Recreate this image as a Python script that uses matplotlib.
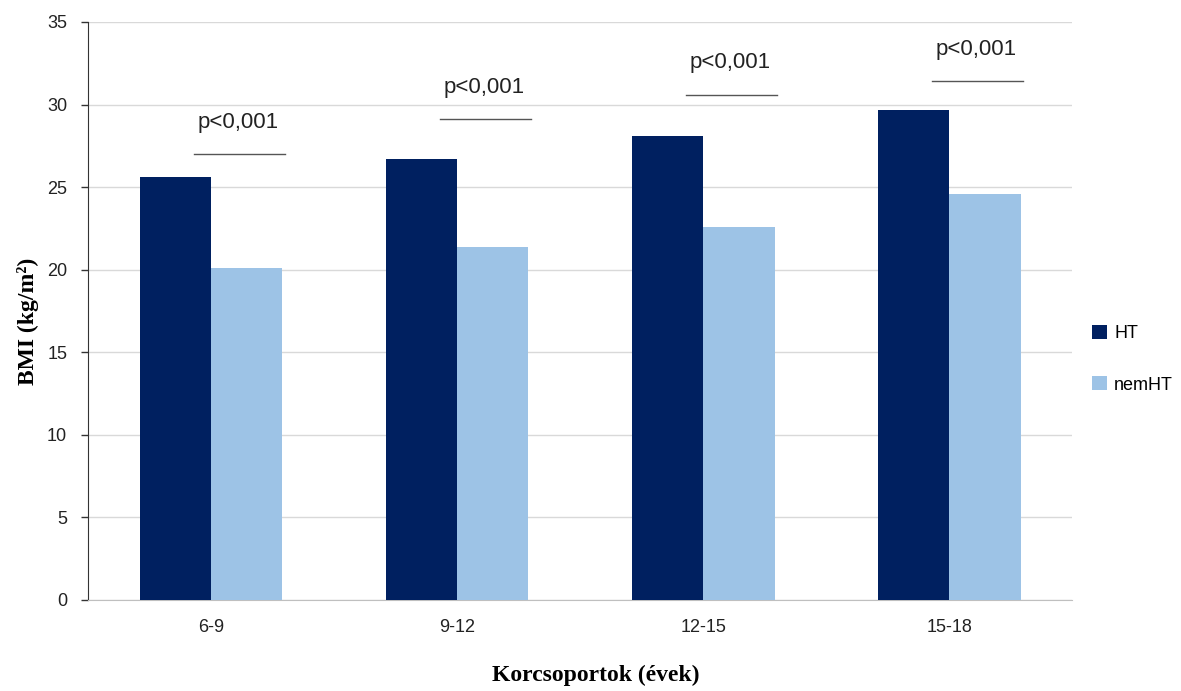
import numpy as np
import matplotlib.pyplot as plt

# data
groups = ['6-9', '9-12', '12-15', '15-18']
ht = [25.6, 26.7, 28.1, 29.7]
nemht = [20.1, 21.4, 22.6, 24.6]
p_level = [27.0, 29.1, 30.6, 31.4]
p_text = ['p<0,001', 'p<0,001', 'p<0,001', 'p<0,001']

fig = plt.figure(figsize=(11.81, 6.91), dpi=100)
ax = fig.add_axes([0.0745, 0.1317, 0.8335, 0.8365])

x = np.arange(len(groups))
w = 0.29
ax.bar(x - w / 2, ht, w, color='#002060', label='HT', zorder=3)
ax.bar(x + w / 2, nemht, w, color='#9dc3e6', label='nemHT', zorder=3)

# significance markers
for xi, lvl, t in zip(x, p_level, p_text):
    ax.plot([xi - 0.07, xi + 0.3], [lvl, lvl], color='#555555', lw=1, zorder=4)
    ax.text(xi + 0.11, lvl + 1.3, t, ha='center', va='bottom',
            fontsize=16, family='Liberation Sans', color='#222222')

ax.set_xlim(-0.5, len(groups) - 0.5)
ax.set_ylim(0, 35)
ax.set_yticks(range(0, 36, 5))
ax.set_xticks(x)
ax.set_xticklabels(groups)
ax.grid(axis='y', color='#d9d9d9', lw=1, zorder=0)
ax.tick_params(axis='x', length=0, pad=14, labelsize=13)
ax.tick_params(axis='y', length=5, width=1, color='#333333', pad=10, labelsize=13)
for lab in ax.get_xticklabels() + ax.get_yticklabels():
    lab.set_family('Liberation Sans')
    lab.set_color('#222222')

for s in ['top', 'right']:
    ax.spines[s].set_visible(False)
ax.spines['left'].set_color('#333333')
ax.spines['bottom'].set_color('#bfbfbf')

fig.text(0.5045, 0.022, 'Korcsoportok (évek)', fontsize=17, fontweight='bold',
         family='Liberation Serif', ha='center', va='center')
fig.text(0.024, 0.535, 'BMI (kg/m²)', fontsize=17, fontweight='bold',
         family='Liberation Serif', ha='center', va='center', rotation=90)

fig.legend(loc='center left', bbox_to_anchor=(0.925, 0.48), frameon=False,
           prop={'family': 'Liberation Sans', 'size': 13},
           handlelength=0.8, handleheight=0.8, handletextpad=0.4,
           labelspacing=1.9, borderpad=0, borderaxespad=0)

fig.savefig('out.png', dpi=100)
